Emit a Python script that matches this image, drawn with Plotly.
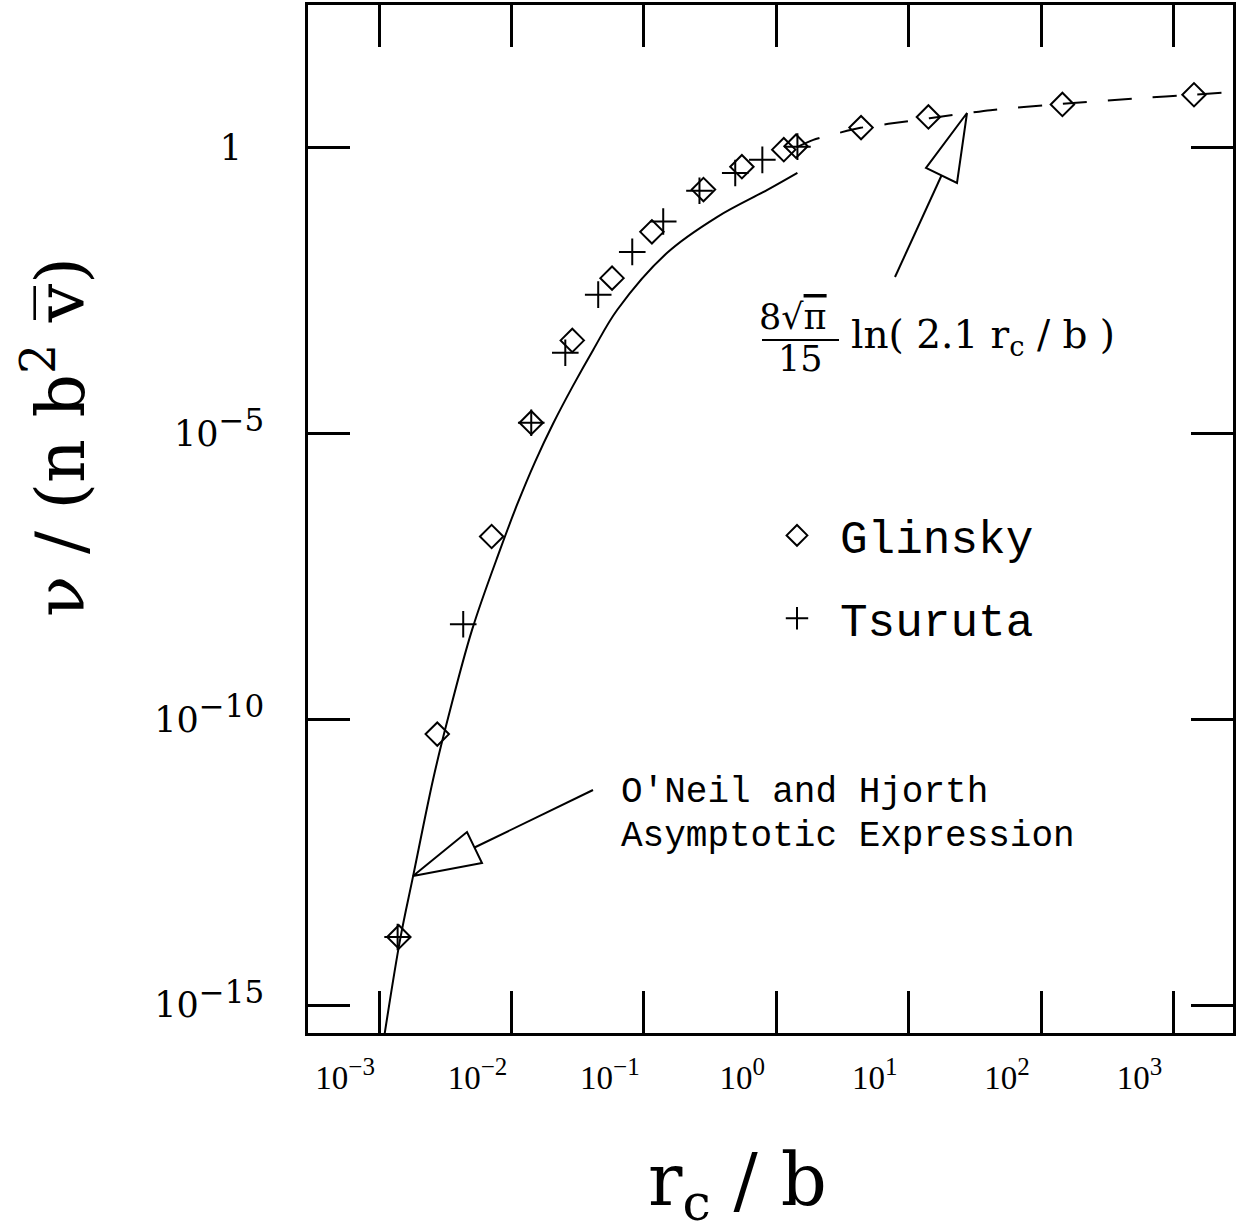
import plotly.graph_objects as go

# ---------------- data ----------------
glinsky_x = [0.00141, 0.00275, 0.00708, 0.0141, 0.0288, 0.0575, 0.115, 0.282,
             0.55, 1.14, 1.41, 4.37, 14.1, 145, 1430]
glinsky_y = [1.55e-14, 5.5e-11, 1.58e-7, 1.55e-5, 4.27e-4, 5.25e-3, 0.0339, 0.186,
             0.468, 0.93, 1.07, 2.26, 3.47, 5.75, 8.5]

tsuruta_x = [0.00138, 0.00432, 0.0141, 0.0255, 0.0452, 0.0817, 0.140, 0.263,
             0.49, 0.785, 1.445]
tsuruta_y = [1.55e-14, 4.6e-9, 1.55e-5, 2.6e-4, 2.7e-3, 0.0151, 0.0513, 0.178,
             0.363, 0.617, 1.05]

oneil_x = [0.001072, 0.001442, 0.001807, 0.00256, 0.00327, 0.00505, 0.00822, 0.01104,
           0.0151, 0.02065, 0.0292, 0.0415, 0.063, 0.150, 0.359, 0.857, 1.445]
oneil_y = [2.09e-16, 1.41e-14, 1.80e-13, 8.93e-12, 9.2e-11, 3.74e-9, 9.4e-8, 5.74e-7,
           3.24e-6, 1.50e-5, 6.9e-5, 2.94e-4, 1.47e-3, 0.0146, 0.0622, 0.1845, 0.366]

log_fit_x = [1.445, 1.905, 4.33, 7.03, 14.4, 41.5, 145.6, 546, 1422, 2951]
log_fit_y = [1.04, 1.38, 2.24, 2.63, 3.31, 4.57, 5.89, 7.41, 8.51, 9.55]

x_tickvals = [1e-3, 1e-2, 1e-1, 1e0, 1e1, 1e2, 1e3]
x_exps = ["\u22123", "\u22122", "\u22121", "0", "1", "2", "3"]
y_tickvals = [1e-15, 1e-10, 1e-5, 1]
y_exps = ["\u221215", "\u221210", "\u22125", None]

# ---------------- layout helpers ----------------
W, H = 1236, 1232
L, R, T, B = 308, 1233, 5, 1033


def px(x):
    return (x - L) / (R - L)


def py(y):
    return (B - y) / (B - T)


def pow_label(e, sup_px):
    if e is None:
        return "1\u00a0\u00a0"
    return "10<sup><span style='font-size:{}px'>{}</span></sup>".format(sup_px, e)


x_ticktext = [pow_label(e, 25) for e in x_exps]
y_ticktext = [pow_label(e, 31) for e in y_exps]

SERIF = "DejaVu Serif"
MONO = "Liberation Mono"

fig = go.Figure()

fig.add_trace(go.Scatter(x=oneil_x, y=oneil_y, mode="lines",
                         line=dict(color="black", width=2, shape="spline", smoothing=1.0),
                         showlegend=False, hoverinfo="skip"))
fig.add_trace(go.Scatter(x=log_fit_x, y=log_fit_y, mode="lines",
                         line=dict(color="black", width=2, dash="24px,21px",
                                   shape="spline", smoothing=0.6),
                         showlegend=False, hoverinfo="skip"))
fig.add_trace(go.Scatter(x=glinsky_x, y=glinsky_y, mode="markers", name="Glinsky",
                         legendgroup="g",
                         marker=dict(symbol="diamond-open", size=18, color="black",
                                     line=dict(width=2, color="black"))))
fig.add_trace(go.Scatter(x=tsuruta_x, y=tsuruta_y, mode="markers", name="Tsuruta",
                         legendgroup="t",
                         marker=dict(symbol="cross-thin-open", size=19, color="black",
                                     line=dict(width=2, color="black"))))

shapes = []
# hollow arrow toward the asymptotic curve
shapes.append(dict(type="path", xref="paper", yref="paper",
                   path="M {} {} L {} {} L {} {} Z".format(px(413), py(876), px(467), py(832),
                                                          px(482), py(863)),
                   line=dict(color="black", width=2), fillcolor="white"))
shapes.append(dict(type="line", xref="paper", yref="paper",
                   x0=px(474.5), y0=py(847.5), x1=px(593), y1=py(790),
                   line=dict(color="black", width=2)))
# hollow arrow toward the log curve
shapes.append(dict(type="path", xref="paper", yref="paper",
                   path="M {} {} L {} {} L {} {} Z".format(px(967), py(113), px(926), py(168),
                                                          px(957), py(183)),
                   line=dict(color="black", width=2), fillcolor="white"))
shapes.append(dict(type="line", xref="paper", yref="paper",
                   x0=px(941.5), y0=py(175.5), x1=px(895), y1=py(277),
                   line=dict(color="black", width=2)))
# fraction bar
shapes.append(dict(type="line", xref="paper", yref="paper",
                   x0=px(762), y0=py(340), x1=px(839), y1=py(340),
                   line=dict(color="black", width=2)))

annotations = []


def ann(text, x, y, size, family, xanchor="center", yanchor="middle", angle=0):
    annotations.append(dict(text=text, x=px(x), y=py(y), xref="paper", yref="paper",
                            showarrow=False, xanchor=xanchor, yanchor=yanchor,
                            textangle=angle,
                            font=dict(family=family, size=size, color="black")))


ann("O'Neil and Hjorth", 619, 793, 36, MONO, xanchor="left")
ann("Asymptotic Expression", 619, 836, 36, MONO, xanchor="left")
ann("8\u221a<span style='text-decoration:overline'>\u03c0</span>", 793, 317, 35, SERIF)
ann("15", 800, 359, 35, SERIF)
ann("ln( 2.1 r<sub>c</sub> / b )", 849, 337, 39, SERIF, xanchor="left")
# axis titles
ann("r<sub>c</sub>\u00a0/\u00a0b", 737, 1185, 72, SERIF)
ann("\u03bd\u00a0/\u00a0(n\u00a0b<sup>2</sup>\u00a0v\u0305)", 56, 437, 68, SERIF, angle=-90)

fig.update_layout(
    width=W, height=H,
    margin=dict(l=L, r=W - R, t=T, b=H - B, autoexpand=False),
    plot_bgcolor="white", paper_bgcolor="white",
    shapes=shapes, annotations=annotations,
    showlegend=True,
    legend=dict(x=px(754), y=py(499), xanchor="left", yanchor="top",
                font=dict(family=MONO, size=46, color="black"),
                itemwidth=76, tracegroupgap=20, bgcolor="rgba(0,0,0,0)",
                borderwidth=0),
)

fig.update_xaxes(type="log", range=[-3.537, 3.45], showgrid=False, zeroline=False,
                 showline=True, linecolor="black", linewidth=2.5, mirror="ticks",
                 ticks="inside", ticklen=42, tickwidth=2.5, tickcolor="black",
                 tickvals=x_tickvals, ticktext=x_ticktext, ticklabelshift=-34,
                 ticklabelstandoff=14,
                 tickfont=dict(family="Liberation Serif", size=33, color="black"))
fig.update_yaxes(type="log", range=[-15.49, 2.5], showgrid=False, zeroline=False,
                 showline=True, linecolor="black", linewidth=2.5, mirror="ticks",
                 ticks="inside", ticklen=42, tickwidth=2.5, tickcolor="black",
                 tickvals=y_tickvals, ticktext=y_ticktext, ticklabelstandoff=34,
                 tickfont=dict(family=SERIF, size=35, color="black"))

fig.write_html("out.html",
               config={"displayModeBar": False},
               post_script="document.body.style.margin='0';"
                           "document.body.style.overflow='hidden';")
